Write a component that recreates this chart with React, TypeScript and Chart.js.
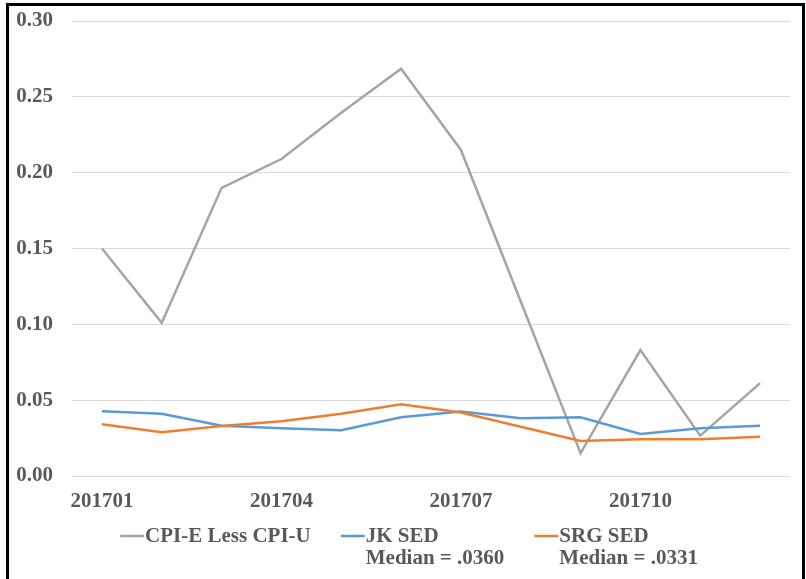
import React, { useEffect, useRef } from "react";
import { Chart, registerables } from "chart.js";

Chart.register(...registerables);

const categories = ["201701", "201702", "201703", "201704", "201705", "201706", "201707", "201708", "201709", "201710", "201711", "201712"];
const cpiDiff = [0.150, 0.101, 0.190, 0.209, 0.2395, 0.2685, 0.215, 0.115, 0.015, 0.083, 0.0266, 0.0612];
const jkSed = [0.0427, 0.0411, 0.0332, 0.0315, 0.0302, 0.0387, 0.0425, 0.0381, 0.0387, 0.0277, 0.0315, 0.0332];
const srgSed = [0.0341, 0.0288, 0.0330, 0.0361, 0.0411, 0.0473, 0.0418, 0.0325, 0.0231, 0.0242, 0.0242, 0.0259];
const legendLabels = [["CPI-E Less CPI-U"], ["JK SED", "Median = .0360"], ["SRG SED", "Median = .0331"]];
const colors = ["#A5A5A5", "#5B9BD5", "#ED7D31"];

const FONT = '"Liberation Serif", "Times New Roman", serif';
const FS = 21;
const TEXT = "#595959";

const legendPlugin = {
  id: "customLegend",
  afterDraw(chart: any) {
    const ctx = chart.ctx;
    ctx.save();
    ctx.font = `bold ${FS}px ${FONT}`;
    ctx.textBaseline = "middle";
    ctx.textAlign = "left";
    const lineLen = 24;
    const gap = 1;
    const itemGap = 30;
    const widths = legendLabels.map((lines) => lineLen + gap + Math.max(...lines.map((l) => ctx.measureText(l).width)));
    const total = widths.reduce((a, b) => a + b, 0) + itemGap * (widths.length - 1);
    let x = (chart.width - total) / 2 + 6;
    const y0 = chart.chartArea.bottom + 60;
    const lh = 22;
    legendLabels.forEach((lines, i) => {
      ctx.strokeStyle = colors[i];
      ctx.lineWidth = 2.5;
      ctx.beginPath();
      ctx.moveTo(x, y0);
      ctx.lineTo(x + lineLen, y0);
      ctx.stroke();
      ctx.fillStyle = TEXT;
      lines.forEach((l, j) => ctx.fillText(l, x + lineLen + gap, y0 + 1 + j * lh));
      x += widths[i] + itemGap;
    });
    ctx.restore();
  },
};

export default function App() {
  const ref = useRef<HTMLCanvasElement>(null);
  useEffect(() => {
    if (!ref.current) return;
    const chart = new Chart(ref.current, {
      type: "line",
      data: {
        labels: categories,
        datasets: [
          { label: legendLabels[0].join(" "), data: cpiDiff, borderColor: colors[0], backgroundColor: colors[0], borderWidth: 2.5, pointRadius: 0, tension: 0, order: 3 },
          { label: legendLabels[1].join(" "), data: jkSed, borderColor: colors[1], backgroundColor: colors[1], borderWidth: 2.5, pointRadius: 0, tension: 0, order: 2 },
          { label: legendLabels[2].join(" "), data: srgSed, borderColor: colors[2], backgroundColor: colors[2], borderWidth: 2.5, pointRadius: 0, tension: 0, order: 1 },
        ],
      },
      options: {
        responsive: false,
        animation: false,
        layout: { padding: { left: 14, right: 16, top: 21, bottom: 67 } },
        plugins: { legend: { display: false }, tooltip: { enabled: false } },
        scales: {
          x: {
            offset: true,
            grid: { display: false, drawTicks: false },
            border: { display: false },
            afterFit: (s: any) => { s.height = 36; s.paddingLeft = 0; s.paddingRight = 0; },
            ticks: {
              autoSkip: false,
              maxRotation: 0,
              padding: 13,
              color: TEXT,
              font: { family: FONT, size: FS, weight: "bold" },
              callback: (v: any, i: number) => (i % 3 === 0 ? categories[i] : ""),
            },
          },
          y: {
            min: 0,
            max: 0.3,
            grid: { color: "#D9D9D9", lineWidth: 1, drawTicks: false },
            border: { display: false },
            afterFit: (s: any) => { s.width = 58; s.paddingTop = 0; s.paddingBottom = 0; },
            ticks: {
              stepSize: 0.05,
              padding: 19,
              color: TEXT,
              font: { family: FONT, size: FS, weight: "bold" },
              callback: (v: any) => Number(v).toFixed(2),
            },
          },
        },
      },
      plugins: [legendPlugin],
    });
    return () => chart.destroy();
  }, []);
  return (
    <div style={{ position: "fixed", left: 0, top: 0, width: 806, height: 579, background: "#fff", overflow: "hidden" }}>
      <canvas ref={ref} width={806} height={579} style={{ position: "absolute", left: 0, top: 0 }} />
      <div style={{ position: "absolute", left: 6, top: 3, width: 799, height: 640, border: "3px solid #000", boxSizing: "border-box", pointerEvents: "none" }} />
    </div>
  );
}
